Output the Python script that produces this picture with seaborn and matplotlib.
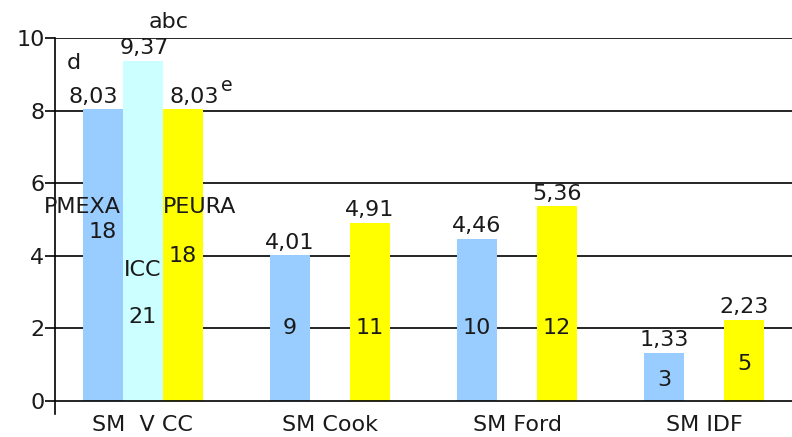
import numpy as np
import pandas as pd
import matplotlib
matplotlib.use("Agg")
import matplotlib.pyplot as plt
import seaborn as sns

# ---- data ----
groups = ["SM  V CC", "SM Cook", "SM Ford", "SM IDF"]
series = ["PMEXA", "ICC", "PEURA"]
pmexa = [8.03, 4.01, 4.46, 1.33]
icc = [9.37, np.nan, np.nan, np.nan]
peura = [8.03, 4.91, 5.36, 2.23]
n_pmexa = [18, 9, 10, 3]
n_icc = [21, None, None, None]
n_peura = [18, 11, 12, 5]
yticks = [0, 2, 4, 6, 8, 10]

colors = {"PMEXA": "#99CCFF", "ICC": "#CCFFFF", "PEURA": "#FFFF00"}

rows = []
for s, vals, ns in [("PMEXA", pmexa, n_pmexa), ("ICC", icc, n_icc), ("PEURA", peura, n_peura)]:
    for g, v, n in zip(groups, vals, ns):
        rows.append({"group": g, "series": s, "value": v, "n": n})
df = pd.DataFrame(rows)

sns.set_theme(style="white")
plt.rcParams['font.family'] = ['DejaVu Sans']
FS = 16
TC = "#1a1a1a"

fig = plt.figure(figsize=(7.92, 4.37), dpi=100)
ax = fig.add_axes([0.0694, 0.053, 0.9306, 0.860])

sns.barplot(data=df.dropna(subset=["value"]), x="group", y="value", hue="series",
            order=groups, hue_order=series, palette=colors, width=0.64,
            dodge=True, errorbar=None, saturation=1, ax=ax, legend=False,
            linewidth=0, zorder=2)

ax.set_xlim(-0.47, 3.47)
ax.set_ylim(-0.358, 10)
ax.set_yticks(yticks)
ax.set_yticklabels([str(t) for t in yticks], fontsize=FS, color=TC)
for t in yticks:
    ax.axhline(t, color="black", lw=1.2, zorder=1 if t > 0 else 3)

for sp in ["top", "right", "bottom"]:
    ax.spines[sp].set_visible(False)
ax.spines["left"].set_color("black")
ax.spines["left"].set_linewidth(1.2)
ax.tick_params(axis="y", direction="out", length=7.5, width=1.2, color="black", pad=0, left=True)
ax.tick_params(axis="x", length=0, pad=1, labelsize=FS, labelcolor=TC)
ax.set_xlabel("")
ax.set_ylabel("")

# count label positions (layout)
count_pos = {
    ("PMEXA", 0): 4.65, ("ICC", 0): 2.3, ("PEURA", 0): 4.0,
}
val_dx = {("PMEXA", 0): -0.05, ("ICC", 0): 0.01, ("PEURA", 0): 0.06}

data_map = {"PMEXA": (pmexa, n_pmexa), "ICC": (icc, n_icc), "PEURA": (peura, n_peura)}
for cont, s in zip(ax.containers, series):
    vals, ns = data_map[s]
    valid = [i for i, v in enumerate(vals) if not np.isnan(v)]
    for patch, gi in zip(cont.patches, valid):
        xc = patch.get_x() + patch.get_width() / 2
        h = patch.get_height()
        lab = f"{vals[gi]:.2f}".replace(".", ",")
        ax.annotate(lab, (xc + val_dx.get((s, gi), 0), h), xytext=(0, 2), textcoords="offset points",
                    ha="center", va="bottom", fontsize=FS, color=TC, zorder=5)
        yc = count_pos.get((s, gi), min(h / 2, 2.0) - (0.1 if h < 4 else 0))
        ax.text(xc, yc, str(ns[gi]), ha="center", va="center", fontsize=FS,
                color=TC, zorder=5)

# series name labels
p0 = ax.containers[0].patches[0]
i0 = ax.containers[1].patches[0]
e0 = ax.containers[2].patches[0]
ax.text(p0.get_x() + p0.get_width() - 0.01, 5.35, "PMEXA", ha="right", va="center", fontsize=FS, color=TC, zorder=5)
ax.text(i0.get_x() + i0.get_width() / 2, 3.6, "ICC", ha="center", va="center", fontsize=FS, color=TC, zorder=5)
ax.text(e0.get_x() + 0.0, 5.35, "PEURA", ha="left", va="center", fontsize=FS, color=TC, zorder=5)

# letters
ax.text(i0.get_x() + i0.get_width() / 2 + 0.14, 10.45, "abc", ha="center", va="center", fontsize=FS, color=TC, clip_on=False)
ax.text(p0.get_x() - 0.05, 9.3, "d", ha="center", va="center", fontsize=FS, color=TC)
ax.text(e0.get_x() + e0.get_width() + 0.13, 8.7, "e", ha="center", va="center", fontsize=FS * 0.85, color=TC)

fig.savefig("out.png", dpi=100, facecolor="white")
